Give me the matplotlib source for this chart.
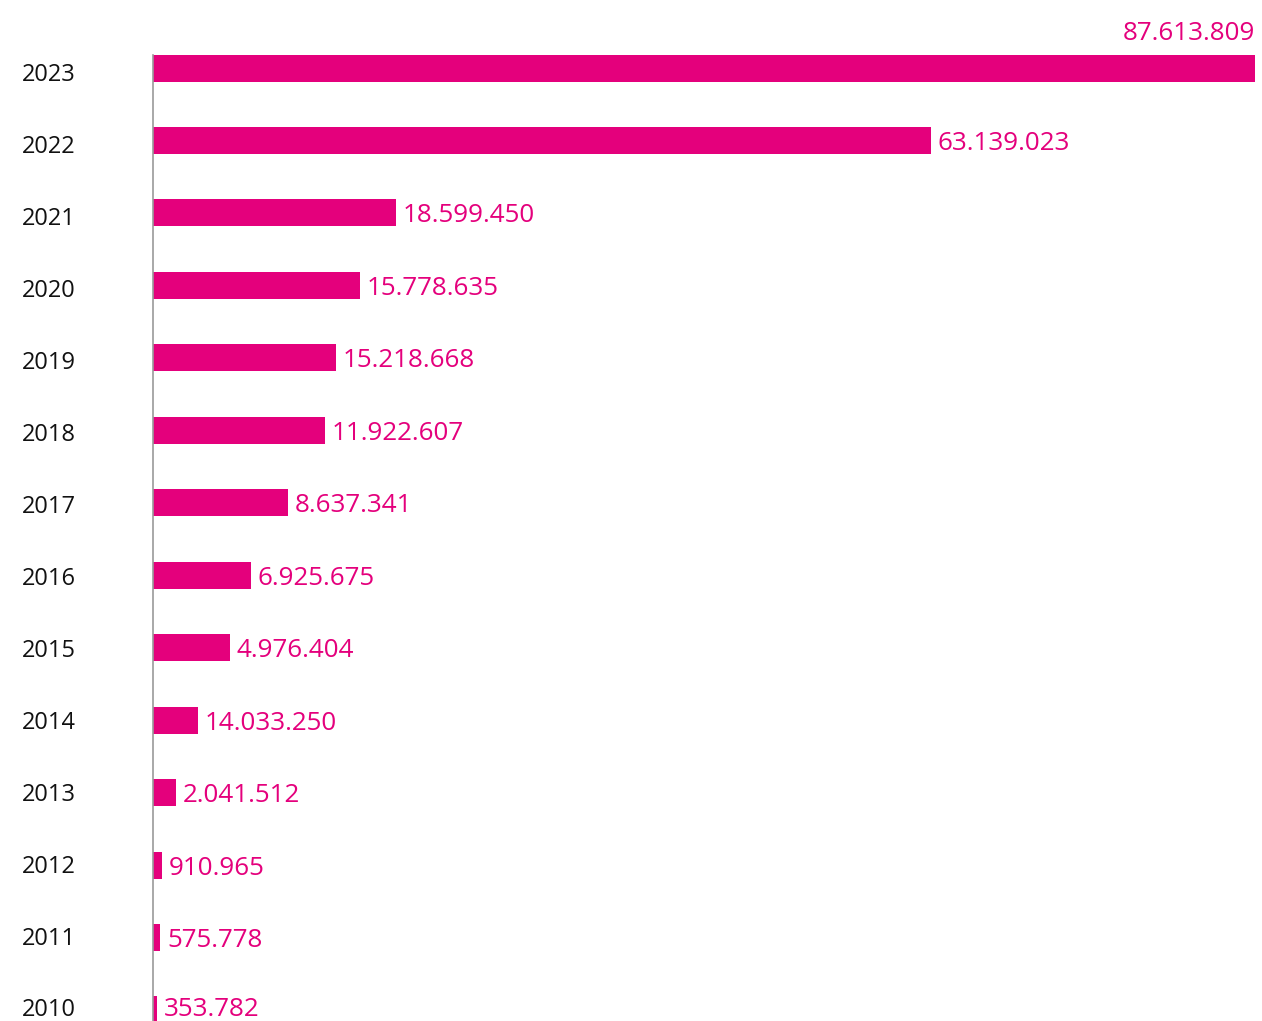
import matplotlib
matplotlib.use("Agg")
import matplotlib.pyplot as plt

years = ["2010", "2011", "2012", "2013", "2014", "2015", "2016", "2017",
         "2018", "2019", "2020", "2021", "2022", "2023"]
# bar lengths (millions) as drawn in the picture
bar_values = [0.29, 0.56, 0.72, 1.80, 3.58, 6.12, 7.77, 10.71,
              13.67, 14.55, 16.46, 19.32, 61.85, 87.61]
value_labels = ["353.782", "575.778", "910.965", "2.041.512", "14.033.250",
                "4.976.404", "6.925.675", "8.637.341", "11.922.607",
                "15.218.668", "15.778.635", "18.599.450", "63.139.023",
                "87.613.809"]

PINK = "#E4007C"
W, H, DPI = 1262, 1021, 100
S = 72.45          # pixel spacing between bars
BASE = 1009.9      # pixel (from top) of the first bar centre
LS = 71.96         # pixel spacing of the year labels
LTOP = 72.0        # pixel (from top) of the top year label centre
plt.rcParams['font.family'] = ['Open Sans', 'DejaVu Sans']

fig = plt.figure(figsize=(W / DPI, H / DPI), dpi=DPI)
ax = fig.add_axes([153 / W, 0, (1255 - 153) / W, 1])

ypos = list(range(len(years)))
ax.barh(ypos, bar_values, height=27 / S, color=PINK, linewidth=0, zorder=2)

ax.set_xlim(0, bar_values[-1])
ax.set_ylim((BASE - H) / S, BASE / S)

for s in ["top", "right", "bottom"]:
    ax.spines[s].set_visible(False)
ax.spines["left"].set_color("#9a9a9a")
ax.spines["left"].set_linewidth(1.2)
ax.spines["left"].set_bounds((BASE - H) / S, len(years) - 1 + 13 / S)
ax.spines["left"].set_zorder(3)
ax.set_xticks([])
ax.set_yticks([])

n = len(years)
for i, yr in enumerate(years):
    p = LTOP + LS * (n - 1 - i) + 3
    fig.text(22 / W, 1 - p / H, yr, ha="left", va="center",
             fontsize=17, color="#111111")

for i, (v, lab) in enumerate(zip(bar_values, value_labels)):
    if i == n - 1:
        ax.annotate(lab, (v, i), xytext=(0, 35), textcoords="offset pixels",
                    ha="right", va="center", fontsize=18.7, color=PINK,
                    annotation_clip=False)
    else:
        dy = 0 if i == 0 else -3
        ax.annotate(lab, (v, i), xytext=(7, dy), textcoords="offset pixels",
                    ha="left", va="center", fontsize=18.7, color=PINK,
                    annotation_clip=False)

fig.savefig("out.png", dpi=DPI)
